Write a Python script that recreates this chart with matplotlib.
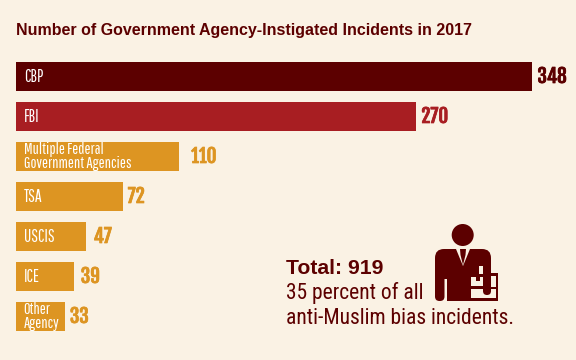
import matplotlib
matplotlib.use("Agg")
import matplotlib.pyplot as plt
import matplotlib.patheffects as pe
from matplotlib.patches import Circle, FancyBboxPatch, Polygon, Rectangle

agencies = ["CBP", "FBI", "Multiple Federal\nGovernment Agencies", "TSA", "USCIS", "ICE", "Other\nAgency"]
counts = [348, 270, 110, 72, 47, 39, 33]
bar_colors = ["#5c0000", "#a81e22", "#dd9522", "#dd9522", "#dd9522", "#dd9522", "#dd9522"]
label_gaps = [5.5, 5, 12, 5, 8, 7, 5]

BG = "#faf2e4"
DARK = "#5c0000"
NARROW = ["Pathway Gothic One", "Roboto Condensed", "Liberation Sans"]
MID = ["Roboto Condensed", "Liberation Sans"]
NUMS = ["Fjalla One", "Oswald", "Liberation Sans"]
BOLD = ["Liberation Sans", "DejaVu Sans"]

fig = plt.figure(figsize=(5.76, 3.6), dpi=100, facecolor=BG)

# bars: value 0 sits at x=16px, 348 at x=532px, rows are 40px apart
ax = fig.add_axes([0, 0, 1, 1])
k = 348 / 516
ax.set_xlim(-16 * k, 560 * k)
ax.set_ylim((360 - 76.5) / 40, -76.5 / 40)
ax.axis("off")
ax.barh(range(len(counts)), counts, height=29 / 40, color=bar_colors)

for i, (name, val, col, gap) in enumerate(zip(agencies, counts, bar_colors, label_gaps)):
    two_lines = "\n" in name
    ax.annotate(name, (0, i), xytext=(5.5, 0), textcoords="offset points", color="white",
                fontsize=11.5 if two_lines else 12.3, family=NARROW, va="center", ha="left", linespacing=0.9)
    t = ax.annotate(str(val), (val, i), xytext=(gap * 0.72, 0), textcoords="offset points", color=col,
                    fontsize=13.8, family=NUMS, va="center", ha="left")
    t.set_path_effects([pe.withStroke(linewidth=0.5, foreground=col)])

# overlay in pixel coordinates for the text block and icon
ov = fig.add_axes([0, 0, 1, 1])
ov.set_xlim(0, 576)
ov.set_ylim(360, 0)
ov.axis("off")

ov.text(16, 30, "Number of Government Agency-Instigated Incidents in 2017", color=DARK,
        fontsize=11.5, family=BOLD, fontweight="bold", va="center", ha="left")
ov.text(286, 268, "Total: 919", color=DARK, fontsize=15.2, family=BOLD, fontweight="bold", va="center")
ov.text(286, 292.5, "35 percent of all", color=DARK, fontsize=15.5, family=MID, va="center")
ov.text(286, 318, "anti-Muslim bias incidents.", color=DARK, fontsize=15.5, family=MID, va="center")

# person icon
ov.add_patch(Circle((462.7, 235), 11, color=DARK, lw=0))
ov.add_patch(FancyBboxPatch((435, 249), 56, 30, boxstyle="round,pad=0,rounding_size=9", color=DARK, lw=0))
ov.add_patch(FancyBboxPatch((435, 262), 9.5, 39, boxstyle="round,pad=0,rounding_size=4.5", color=DARK, lw=0))
ov.add_patch(Rectangle((447.3, 262), 22, 38.5, color=DARK, lw=0))
ov.add_patch(Rectangle((469, 262), 10, 12, color=DARK, lw=0))

# lapels
ov.add_patch(Polygon([[456, 249], [460, 249], [460.5, 255], [463, 265], [465.5, 255], [466, 249], [470, 249], [463, 266]],
                     color=BG, lw=0))

# briefcase
ov.add_patch(Rectangle((469, 273), 29.3, 27.5, color=DARK, lw=0))
ov.add_patch(Rectangle((471, 277), 12, 9, color=BG, lw=0))
ov.add_patch(Rectangle((491, 276), 5, 11, color=BG, lw=0))
ov.add_patch(Rectangle((471, 289), 25, 9, color=BG, lw=0))
ov.add_patch(Rectangle((476, 277), 4, 4, color=DARK, lw=0))

# right arm over the case
ov.add_patch(Rectangle((479, 266), 4, 8, color=BG, lw=0))
ov.add_patch(FancyBboxPatch((483, 262), 8, 33, boxstyle="round,pad=0,rounding_size=4", color=DARK, lw=0))

fig.savefig("out.png", dpi=100, facecolor=BG)
